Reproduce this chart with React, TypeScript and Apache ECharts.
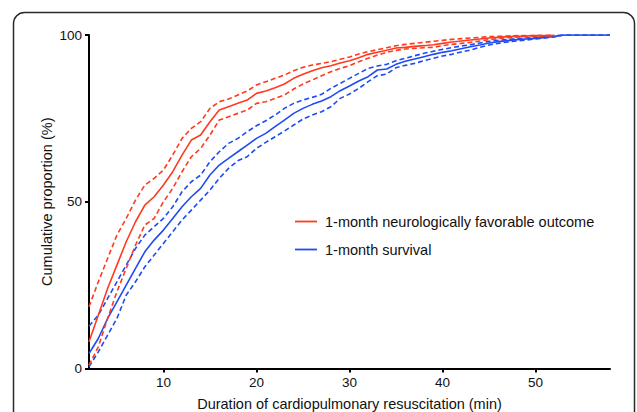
import React, { useEffect, useRef } from "react";
import * as echarts from "echarts";

const minutes = [2,3,4,5,6,7,8,9,10,11,12,13,14,15,16,17,18,19,20,21,22,23,24,25,26,27,28,29,30,31,32,33,34,35,36,37,38,39,40,41,42,43,44,45,46,47,48,49,50,51,52,53,54,55,56,57,58];

const xTicks = [10, 20, 30, 40, 50];
const yTicks = [0, 50, 100];

// 1-month neurologically favorable outcome (minutes 2..52)
const favorable = [8,16,24,31,38,44,49,51.5,55,59,64,68.5,70,74,77.5,78.5,79.5,80.5,82.5,83.2,84.2,85.3,87,88.2,89.3,90.2,90.8,91.6,92.3,93.2,94.2,94.8,95.4,96.1,96.3,96.6,96.8,97.1,97.5,97.9,98.2,98.5,98.8,99.1,99.3,99.5,99.6,99.7,99.8,99.8,99.9];
const favorableUpper = [18.5,26,33,40,45,50.5,55,57,59.5,64,69,72,74,78,80,80.8,82,83.2,85,86,87,88,89.3,90.3,91,91.5,92,92.7,93.4,94.3,95,95.6,96.2,96.8,97.2,97.5,97.8,98.1,98.4,98.7,98.9,99.1,99.3,99.5,99.6,99.7,99.8,99.8,99.9,99.9,100];
const favorableLower = [1,6.5,15,23,30,37,43,45,50,54,59,63.5,66,70,74.5,75.5,76.5,77.5,79.5,80,81,82,83.8,85.3,86.5,87.8,89,90,90.8,92,93,94,94.8,95.4,95.8,96,96.2,96.3,96.8,97.2,97.5,97.8,98.2,98.6,98.9,99.2,99.4,99.5,99.6,99.7,99.8];

// 1-month survival (minutes 2..58)
const survival = [4.5,9,15,20,25,30,35,38.5,41.5,45,48.5,51.5,54,58,61,63,65,67,69,70.5,72.5,74.5,76.5,78,79.2,80.2,81.5,83.3,84.7,86.2,87.5,89.5,89.8,91.2,92.1,92.8,93.5,94.2,94.8,95.3,95.9,96.5,97,97.6,98,98.3,98.6,98.8,99,99.3,99.6,100,100,100,100,100,100];
const survivalUpper = [12.7,16,21,26,31,36,40,42.5,45,48.5,53,56,58,62,65,67.5,69,71,72.8,74.3,76,78,79.5,80.5,81.3,82.2,84,85.5,87,88.5,90,90.7,91.2,92.3,93,93.8,94.5,95.1,95.7,96.2,96.7,97.1,97.6,98.1,98.4,98.7,98.9,99.1,99.3,99.5,99.7,100,100,100,100,100,100];
const survivalLower = [0.5,5,10,15,22,26,30.5,34,37.5,41,44.5,47.5,50.5,53.5,57,60,62.3,63.5,66,67.8,69.5,71.2,73,74.8,76,77,78.5,81,82.3,84,86,87.8,88.3,90.2,90.9,91.5,92.3,93,93.7,94.2,94.9,95.5,96.3,97,97.5,97.9,98.2,98.5,98.8,99.1,99.4,100,100,100,100,100,100];

const legendLabels = ["1-month neurologically favorable outcome", "1-month survival"];

const RED = "#FF3A1E";
const BLUE = "#1F4BF2";
const FONT = "Liberation Sans, Arial, Helvetica, sans-serif";
const FS = 14.5;
const TFS = 13.5;

function pairs(ys: number[]) {
  return ys.map((y, i) => [minutes[i], y]);
}

function lineSeries(name: string, ys: number[], color: string, dashed: boolean) {
  return {
    type: "line",
    name,
    data: pairs(ys),
    showSymbol: false,
    symbol: "none",
    silent: true,
    lineStyle: {
      color,
      width: 1.6,
      type: dashed ? [5, 3] : "solid",
    },
    z: 3,
  };
}

export default function App() {
  const ref = useRef<HTMLDivElement>(null);
  useEffect(() => {
    if (!ref.current) return;
    const chart = echarts.init(ref.current, undefined, { renderer: "svg" });
    chart.setOption({
      animation: false,
      backgroundColor: "#ffffff",
      grid: { left: 89, right: 27, top: 35, bottom: 43.5, containLabel: false, outerBoundsMode: "none" },
      xAxis: {
        type: "value",
        min: 2,
        max: 58,
        name: "Duration of cardiopulmonary resuscitation (min)",
        nameLocation: "middle",
        nameGap: 28,
        nameMoveOverlap: false,
        nameTextStyle: { color: "#111", fontSize: FS, fontFamily: FONT },
        axisLine: { show: true, lineStyle: { color: "#000", width: 2 } },
        axisTick: { show: true, inside: false, length: 4, lineStyle: { color: "#000", width: 2 }, customValues: xTicks },
        axisLabel: { color: "#111", fontSize: TFS, fontFamily: FONT, margin: 7, customValues: xTicks },
        splitLine: { show: false },
      },
      yAxis: {
        type: "value",
        min: 0,
        max: 100,
        interval: 50,
        name: "Cumulative proportion (%)",
        nameLocation: "middle",
        nameGap: 35,
        nameRotate: 90,
        nameMoveOverlap: false,
        nameTextStyle: { color: "#111", fontSize: FS, fontFamily: FONT },
        axisLine: { show: true, lineStyle: { color: "#000", width: 2 } },
        axisTick: { show: true, inside: false, length: 4, lineStyle: { color: "#000", width: 2 }, customValues: yTicks },
        axisLabel: { color: "#111", fontSize: TFS, fontFamily: FONT, margin: 7, customValues: yTicks },
        splitLine: { show: false },
      },
      series: [
        lineSeries("survLower", survivalLower, BLUE, true),
        lineSeries("survUpper", survivalUpper, BLUE, true),
        lineSeries(legendLabels[1], survival, BLUE, false),
        lineSeries("favLower", favorableLower, RED, true),
        lineSeries("favUpper", favorableUpper, RED, true),
        lineSeries(legendLabels[0], favorable, RED, false),
      ],
      graphic: [
        {
          type: "rect",
          shape: { x: 13.5, y: 12.5, width: 621, height: 440, r: 11 },
          style: { fill: "none", stroke: "#2a2a2a", lineWidth: 1.5 },
          silent: true,
          z: 0,
        },
        {
          type: "line",
          shape: { x1: 295, y1: 221.5, x2: 317, y2: 221.5 },
          style: { stroke: RED, lineWidth: 1.8 },
        },
        {
          type: "text",
          x: 325,
          y: 221.5,
          style: { text: legendLabels[0], fill: "#111", font: FS + "px " + FONT, textVerticalAlign: "middle", verticalAlign: "middle" },
        },
        {
          type: "line",
          shape: { x1: 295, y1: 249.5, x2: 317, y2: 249.5 },
          style: { stroke: BLUE, lineWidth: 1.8 },
        },
        {
          type: "text",
          x: 325,
          y: 249.5,
          style: { text: legendLabels[1], fill: "#111", font: FS + "px " + FONT, textVerticalAlign: "middle", verticalAlign: "middle" },
        },
      ],
    });
    return () => chart.dispose();
  }, []);
  return <div ref={ref} style={{ width: 637, height: 412, position: "fixed", left: 0, top: 0 }} />;
}
